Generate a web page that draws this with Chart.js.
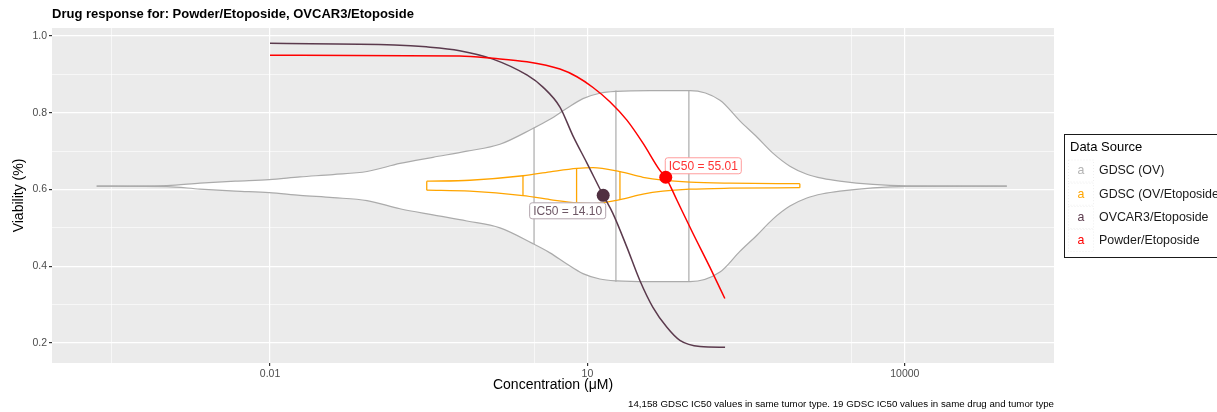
<!DOCTYPE html>
<html>
<head>
<meta charset="utf-8">
<script src="https://cdn.jsdelivr.net/npm/chart.js@4.4.1/dist/chart.umd.min.js"></script>
<style>
  html, body { margin: 0; padding: 0; background: #fff; }
  #wrap { width: 1217px; height: 412px; }
</style>
</head>
<body>
<div id="wrap"><canvas id="chart" width="1217" height="412"></canvas></div>
<script>
// ===== TEXT =====
const titleText = 'Drug response for: Powder/Etoposide, OVCAR3/Etoposide';
const captionText = '14,158 GDSC IC50 values in same tumor type. 19 GDSC IC50 values in same drug and tumor type';
const legendTitle = 'Data Source';
const sourceNames = ['GDSC (OV)', 'GDSC (OV/Etoposide)', 'OVCAR3/Etoposide', 'Powder/Etoposide'];

// ===== TICKS =====
const xMajor = [0.01, 10, 10000];
const xMinor = [0.000316, 3.162, 3162];
const yMajor = [0.2, 0.4, 0.6, 0.8, 1.0];
const yMinor = [0.3, 0.5, 0.7, 0.9];

// ===== DOSE RESPONSE CURVES =====
const ovcarConc = [0.01, 0.15, 0.3, 0.62, 1.28, 2.7, 3.8, 5.5, 7.3, 9.9, 14.1, 17.4, 23.6, 31.3, 41.6, 56.4, 74.8, 116, 200];
const ovcarViab = [0.981, 0.977, 0.972, 0.962, 0.940, 0.898, 0.867, 0.815, 0.740, 0.669, 0.585, 0.538, 0.450, 0.363, 0.293, 0.241, 0.207, 0.191, 0.189];
const powderConc = [0.01, 0.62, 1.28, 2.68, 5.5, 7.96, 11.3, 16.3, 23.6, 33.5, 48.4, 55.0, 70.2, 99.3, 144, 199];
const powderViab = [0.950, 0.948, 0.942, 0.933, 0.914, 0.894, 0.866, 0.829, 0.781, 0.721, 0.650, 0.632, 0.572, 0.486, 0.397, 0.316];

// ===== IC50 =====
const ic50Conc = [14.10, 55.01];
const ic50Viab = [0.585, 0.632];

// ===== VIOLINS =====
const gdscCenter = 0.609;
const gdscConc = [0.00023, 0.00106, 0.00218, 0.0047, 0.0098, 0.0192, 0.0394, 0.0826, 0.169, 0.347, 0.726, 1.49, 3.05, 4.43, 6.40, 9.07, 13.1, 19.0, 39.0, 93.1, 179, 276, 400, 566, 820, 1186, 1680, 2430, 4990, 10440, 92000];
const gdscHalf = [0, 0.0013, 0.0078, 0.013, 0.017, 0.024, 0.030, 0.038, 0.059, 0.075, 0.091, 0.109, 0.150, 0.174, 0.203, 0.228, 0.242, 0.247, 0.249, 0.249, 0.224, 0.170, 0.128, 0.086, 0.052, 0.031, 0.020, 0.013, 0.0044, 0.0008, 0];
const gdscQuantConc = [3.13, 18.6, 91];
const gdscQuantHalf = [0.151, 0.249, 0.249];

const etoCenter = 0.610;
const etoConc = [0.303, 0.776, 2.46, 4.43, 7.96, 11.3, 20.3, 33.5, 51.6, 93, 222, 1018];
const etoHalf = [0.0117, 0.0143, 0.026, 0.036, 0.045, 0.047, 0.0365, 0.022, 0.0143, 0.0091, 0.0065, 0.0052];
const etoQuantConc = [2.46, 7.9, 20.3];
const etoQuantHalf = [0.026, 0.045, 0.0365];

// ===== COLOURS =====
const gray = '#ababab', orange = '#ffa500', purple = '#5b3a4d', red = '#ff0000';
const sourceColors = ['#b3b3b3', orange, purple, red];

Chart.defaults.font.family = '"Liberation Sans", Arial, Helvetica, sans-serif';

const near = (a, b) => Math.abs(Math.log10(a) - Math.log10(b)) < 1e-6;
const isMajorX = v => xMajor.some(m => near(v, m));
const isMajorY = v => yMajor.some(m => Math.abs(v - m) < 1e-6);

function edge(conc, half, center, sign) {
  return conc.map((c, i) => ({ x: c, y: center + sign * half[i] }));
}
function vseg(c, h, center) {
  return [{ x: c, y: center - h }, { x: c, y: center + h }];
}
function lineSet(data, color, width, order, extra) {
  return Object.assign({
    data, borderColor: color, borderWidth: width, pointRadius: 0,
    fill: false, order, cubicInterpolationMode: 'monotone'
  }, extra || {});
}

// ===== DATASETS =====
const datasets = [];
datasets.push(lineSet(edge(gdscConc, gdscHalf, gdscCenter, 1), gray, 1.2, 21, { fill: '+1', backgroundColor: '#ffffff' }));
datasets.push(lineSet(edge(gdscConc, gdscHalf, gdscCenter, -1), gray, 1.2, 20));
gdscQuantConc.forEach((c, i) => datasets.push(lineSet(vseg(c, gdscQuantHalf[i], gdscCenter), gray, 1.2, 19)));

datasets.push(lineSet(edge(etoConc, etoHalf, etoCenter, 1), orange, 1.3, 15));
datasets.push(lineSet(edge(etoConc, etoHalf, etoCenter, -1), orange, 1.3, 15));
datasets.push(lineSet(vseg(etoConc[0], etoHalf[0], etoCenter), orange, 1.3, 14));
datasets.push(lineSet(vseg(etoConc[etoConc.length - 1], etoHalf[etoHalf.length - 1], etoCenter), orange, 1.3, 14));
etoQuantConc.forEach((c, i) => datasets.push(lineSet(vseg(c, etoQuantHalf[i], etoCenter), orange, 1.3, 14)));

datasets.push(lineSet(ovcarConc.map((c, i) => ({ x: c, y: ovcarViab[i] })), purple, 1.5, 6));
const redCurveIndex = datasets.length;
datasets.push(lineSet(powderConc.map((c, i) => ({ x: c, y: powderViab[i] })), red, 1.5, 5));

datasets.push({ data: [{ x: ic50Conc[0], y: ic50Viab[0] }], showLine: false, pointRadius: 6.5, pointBackgroundColor: '#503041', pointBorderWidth: 0, order: 2 });
datasets.push({ data: [{ x: ic50Conc[1], y: ic50Viab[1] }], showLine: false, pointRadius: 6.5, pointBackgroundColor: red, pointBorderWidth: 0, order: 1 });

// ===== PLUGINS =====
const panelBg = {
  id: 'panelBg',
  beforeDraw(chart) {
    const { ctx, chartArea: a } = chart;
    ctx.save();
    ctx.fillStyle = '#ebebeb';
    ctx.fillRect(a.left, a.top, a.right - a.left, a.bottom - a.top);
    ctx.restore();
  }
};

function roundRect(ctx, x, y, w, h, r) {
  ctx.beginPath();
  ctx.moveTo(x + r, y);
  ctx.arcTo(x + w, y, x + w, y + h, r);
  ctx.arcTo(x + w, y + h, x, y + h, r);
  ctx.arcTo(x, y + h, x, y, r);
  ctx.arcTo(x, y, x + w, y, r);
  ctx.closePath();
}

const ic50Styles = [
  { text: '#6e5866', border: '#b3a6ae', side: 'topright', dx: 2, dy: 7 },
  { text: '#ff3333', border: '#ff9d9d', side: 'bottomleft', dx: -1, dy: -4 }
];

const ic50Labels = {
  id: 'ic50Labels',
  afterDatasetDraw(chart, args) {
    if (args.index !== redCurveIndex) return;
    const { ctx, scales } = chart;
    ctx.save();
    ctx.font = '12px "Liberation Sans", Arial, sans-serif';
    ctx.textBaseline = 'middle';
    ic50Conc.forEach((c, i) => {
      const st = ic50Styles[i];
      const px = scales.x.getPixelForValue(c);
      const py = scales.y.getPixelForValue(ic50Viab[i]);
      const label = 'IC50 = ' + c.toFixed(2);
      const w = ctx.measureText(label).width + 7;
      const h = 16;
      let bx, by;
      if (st.side === 'topright') { bx = px + st.dx - w; by = py + st.dy; }
      else { bx = px + st.dx; by = py + st.dy - h; }
      roundRect(ctx, bx + 0.5, by + 0.5, w, h, 2.5);
      ctx.fillStyle = '#ffffff';
      ctx.fill();
      ctx.strokeStyle = st.border;
      ctx.lineWidth = 1;
      ctx.stroke();
      ctx.fillStyle = st.text;
      ctx.fillText(label, bx + 4, by + h / 2 + 1);
    });
    ctx.restore();
  }
};

const decorations = {
  id: 'decorations',
  afterDraw(chart) {
    const { ctx, chartArea: a } = chart;
    ctx.save();
    // title
    ctx.fillStyle = '#000';
    ctx.font = 'bold 13px "Liberation Sans", Arial, sans-serif';
    ctx.textBaseline = 'middle';
    ctx.textAlign = 'left';
    ctx.fillText(titleText, a.left, 14);
    // caption
    ctx.font = '9.7px "Liberation Sans", Arial, sans-serif';
    ctx.textAlign = 'right';
    ctx.fillText(captionText, a.right, 404);
    // legend
    const lx = 1064, ly = 134;
    ctx.strokeStyle = '#1a1a1a';
    ctx.lineWidth = 1;
    ctx.strokeRect(lx + 0.5, ly + 0.5, 200, 123);
    ctx.textAlign = 'left';
    ctx.fillStyle = '#000';
    ctx.font = '13px "Liberation Sans", Arial, sans-serif';
    ctx.fillText(legendTitle, lx + 6, ly + 13);
    sourceNames.forEach((name, i) => {
      const cy = ly + 37 + i * 23.2;
      ctx.strokeStyle = '#eeeeee';
      ctx.setLineDash([1, 2]);
      ctx.strokeRect(lx + 4.5, cy - 11, 25, 22);
      ctx.setLineDash([]);
      ctx.font = '12.4px "Liberation Sans", Arial, sans-serif';
      ctx.textAlign = 'center';
      ctx.fillStyle = sourceColors[i];
      ctx.fillText('a', lx + 17, cy);
      ctx.textAlign = 'left';
      ctx.fillStyle = '#1a1a1a';
      ctx.fillText(name, lx + 35, cy);
    });
    ctx.restore();
  }
};

// ===== CHART =====
const ctx = document.getElementById('chart');

new Chart(ctx, {
  type: 'line',
  data: { datasets },
  options: {
    responsive: false,
    animation: false,
    events: [],
    layout: { padding: { left: 11, right: 163, top: 28, bottom: 18 } },
    plugins: {
      legend: { display: false },
      tooltip: { enabled: false },
      title: { display: false }
    },
    scales: {
      x: {
        type: 'logarithmic',
        min: 8.7e-5,
        max: 2.57e5,
        afterBuildTicks: s => { s.ticks = xMinor.concat(xMajor).sort((p, q) => p - q).map(v => ({ value: v })); },
        afterFit: s => { s.height = 31; },
        ticks: {
          autoSkip: false, maxRotation: 0, padding: 2,
          color: '#4d4d4d', font: { size: 10.5 },
          callback: v => isMajorX(v) ? String(v) : ''
        },
        grid: {
          color: '#ffffff',
          lineWidth: c => (c.tick && isMajorX(c.tick.value)) ? 1.2 : 0.6,
          tickColor: c => (c.tick && isMajorX(c.tick.value)) ? '#333333' : 'rgba(0,0,0,0)',
          tickLength: 3
        },
        border: { display: false },
        title: { display: true, text: 'Concentration (μM)', color: '#000', font: { size: 14 }, padding: { top: 0, bottom: 0 } }
      },
      y: {
        type: 'linear',
        min: 0.148,
        max: 1.021,
        afterBuildTicks: s => { s.ticks = yMinor.concat(yMajor).sort((p, q) => p - q).map(v => ({ value: v })); },
        afterFit: s => { s.width = 41; },
        ticks: {
          autoSkip: false, padding: 2,
          color: '#4d4d4d', font: { size: 10.5 },
          callback: v => isMajorY(v) ? v.toFixed(1) : ''
        },
        grid: {
          color: '#ffffff',
          lineWidth: c => (c.tick && isMajorY(c.tick.value)) ? 1.2 : 0.6,
          tickColor: c => (c.tick && isMajorY(c.tick.value)) ? '#333333' : 'rgba(0,0,0,0)',
          tickLength: 3
        },
        border: { display: false },
        title: { display: true, text: 'Viability (%)', color: '#000', font: { size: 14 }, padding: { top: 0, bottom: 0 } }
      }
    }
  },
  plugins: [panelBg, ic50Labels, decorations]
});
</script>
</body>
</html>
